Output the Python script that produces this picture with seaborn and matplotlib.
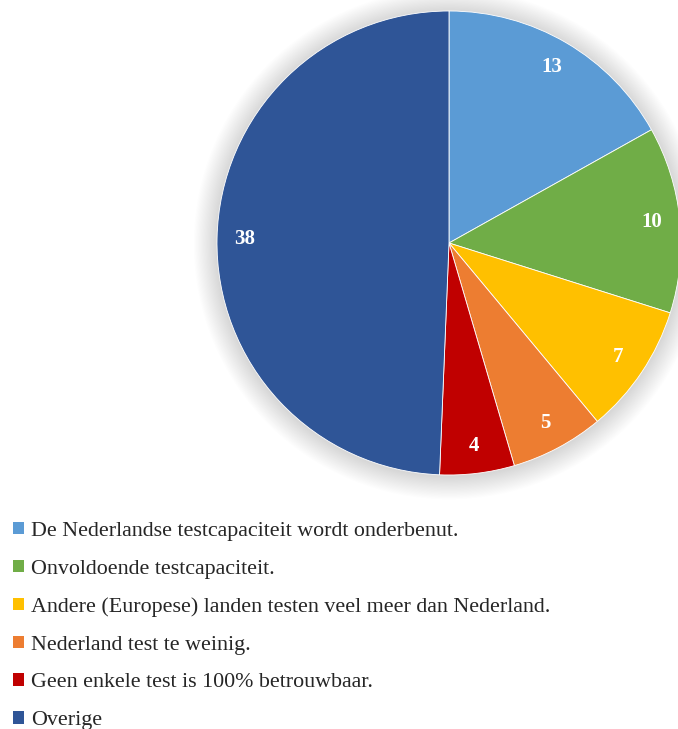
import numpy as np
import seaborn as sns
import matplotlib.pyplot as plt
from matplotlib.patches import Patch, Circle

labels = ["De Nederlandse testcapaciteit wordt onderbenut.",
          "Onvoldoende testcapaciteit.",
          "Andere (Europese) landen testen veel meer dan Nederland.",
          "Nederland test te weinig.",
          "Geen enkele test is 100% betrouwbaar.",
          "Overige"]
values = [13, 10, 7, 5, 4, 38]
colors = ["#5B9BD5", "#70AD47", "#FFC000", "#ED7D31", "#C00000", "#2F5597"]

sns.set_theme(style="white")
plt.rcParams['font.family'] = 'serif'
plt.rcParams['font.serif'] = ['Liberation Serif', 'Times New Roman', 'DejaVu Serif']

W, H = 678, 729
fig = plt.figure(figsize=(W / 100, H / 100), dpi=100)

# pie center and radius in pixels
cx, cy, r = 449, 243, 232
ax = fig.add_axes([(cx - r) / W, (H - cy - r) / H, 2 * r / W, 2 * r / H])
ax.set_xlim(-1, 1)
ax.set_ylim(-1, 1)
ax.axis('off')

# soft glow around the pie
for k in range(20):
    rr = 1.0 + 0.005 * (20 - k)
    ax.add_patch(Circle((0, -0.005), rr, color='black', alpha=0.006, lw=0,
                        zorder=0, clip_on=False))

wedges, texts = ax.pie(values, colors=colors, startangle=90, counterclock=False,
                       radius=1.0, labels=[str(v) for v in values], labeldistance=0.88,
                       wedgeprops=dict(linewidth=0.6, edgecolor='white'),
                       textprops=dict(color='white', fontsize=15, fontweight='bold'))
for t in texts:
    t.set_ha('center')
    t.set_va('center')
    t.set_zorder(5)
ax.set_xlim(-1, 1)
ax.set_ylim(-1, 1)

handles = [Patch(facecolor=c, edgecolor='none') for c in colors]
fig.legend(handles, labels, loc='upper left', bbox_to_anchor=(9 / W, 1 - 517.5 / H),
           frameon=False, handlelength=0.5, handleheight=0.5,
           handletextpad=0.3, labelspacing=0.85, borderaxespad=0.0,
           borderpad=0.2, prop={'family': 'serif', 'size': 15.8})

fig.savefig("out.png", dpi=100)
